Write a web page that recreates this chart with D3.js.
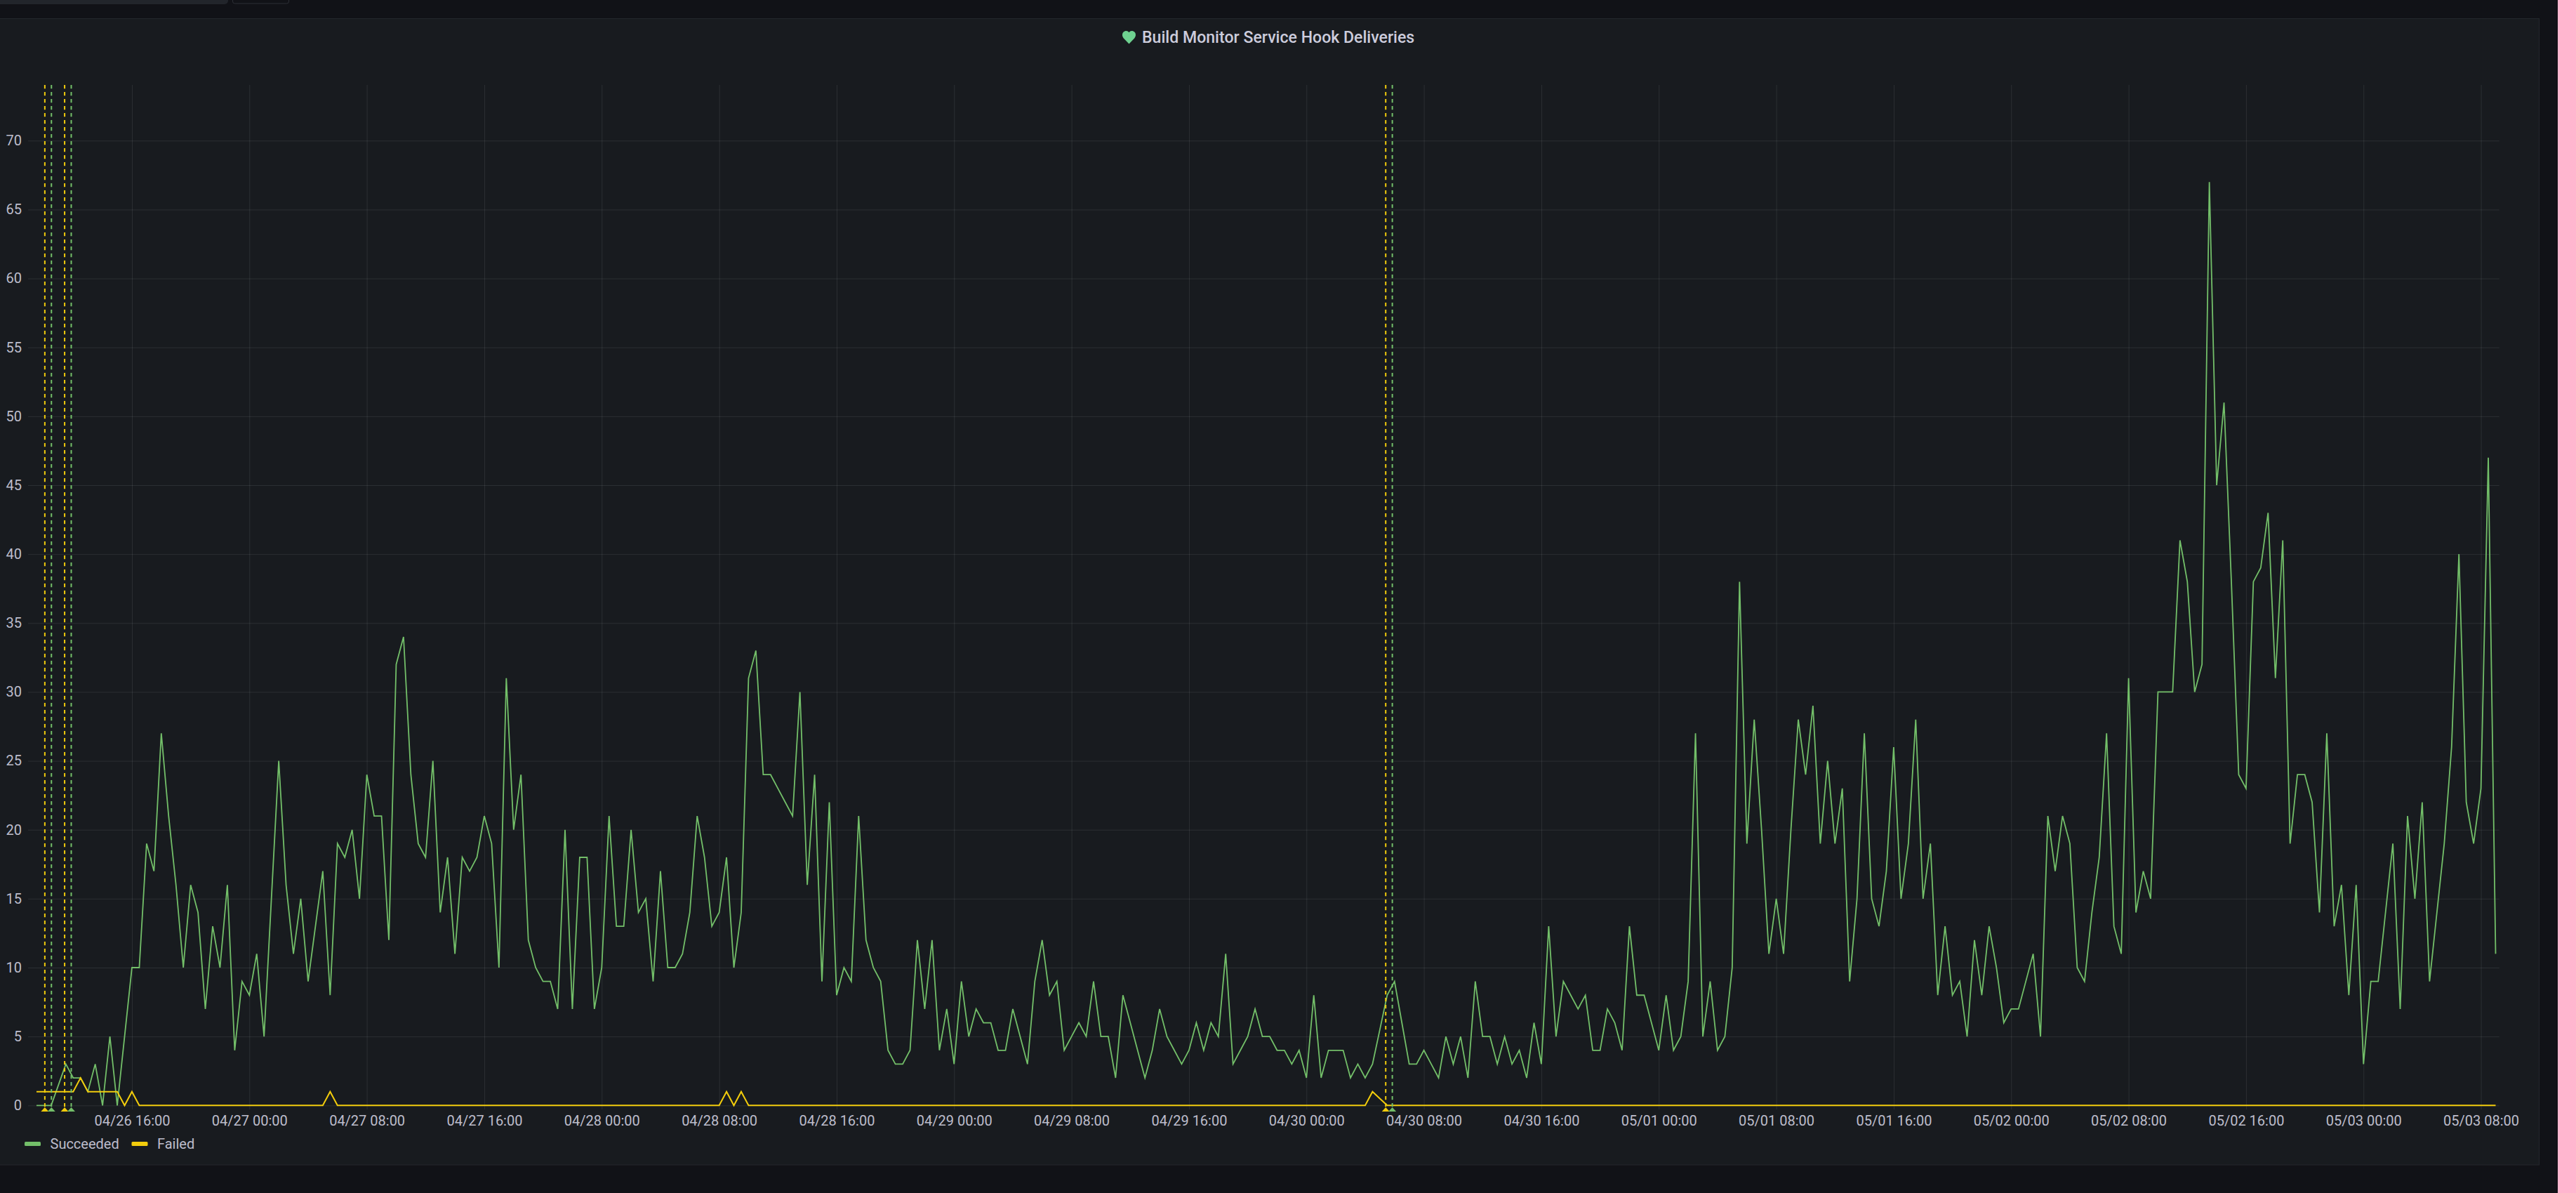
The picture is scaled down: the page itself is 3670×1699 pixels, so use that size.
<!DOCTYPE html>
<html>
<head>
<meta charset="utf-8">
<title>Build Monitor Service Hook Deliveries</title>
<script src="https://cdn.jsdelivr.net/npm/d3@7"></script>
<style>
  html, body { margin: 0; padding: 0; background: #111217; }
  svg { display: block; font-family: Roboto, sans-serif; }
</style>
</head>
<body>
<div id="chart"></div>
<script>
// 30 minute buckets, one value per bucket, first bucket is 04/26 09:30
const succeeded = [
  0,0,0,1.5,3,2,2,1,3,0,5,0,5,10,10,19,
  17,27,21,16,10,16,14,7,13,10,16,4,9,8,11,5,
  15,25,16,11,15,9,13,17,8,19,18,20,15,24,21,21,
  12,32,34,24,19,18,25,14,18,11,18,17,18,21,19,10,
  31,20,24,12,10,9,9,7,20,7,18,18,7,10,21,13,
  13,20,14,15,9,17,10,10,11,14,21,18,13,14,18,10,
  14,31,33,24,24,23,22,21,30,16,24,9,22,8,10,9,
  21,12,10,9,4,3,3,4,12,7,12,4,7,3,9,5,
  7,6,6,4,4,7,5,3,9,12,8,9,4,5,6,5,
  9,5,5,2,8,6,4,2,4,7,5,4,3,4,6,4,
  6,5,11,3,4,5,7,5,5,4,4,3,4,2,8,2,
  4,4,4,2,3,2,3,5.5,8,9,6,3,3,4,3,2,
  5,3,5,2,9,5,5,3,5,3,4,2,6,3,13,5,
  9,8,7,8,4,4,7,6,4,13,8,8,6,4,8,4,
  5,9,27,5,9,4,5,10,38,19,28,20,11,15,11,20,
  28,24,29,19,25,19,23,9,15,27,15,13,17,26,15,19,
  28,15,19,8,13,8,9,5,12,8,13,10,6,7,7,9,
  11,5,21,17,21,19,10,9,14,18,27,13,11,31,14,17,
  15,30,30,30,41,38,30,32,67,45,51,38,24,23,38,39,
  43,31,41,19,24,24,22,14,27,13,16,8,16,3,9,9,
  14,19,7,21,15,22,9,14,19,26,40,22,19,23,47,11
];
const failed = [
  1,1,1,1,1,1,2,1,1,1,1,1,0,1,0,0,
  0,0,0,0,0,0,0,0,0,0,0,0,0,0,0,0,
  0,0,0,0,0,0,0,0,1,0,0,0,0,0,0,0,
  0,0,0,0,0,0,0,0,0,0,0,0,0,0,0,0,
  0,0,0,0,0,0,0,0,0,0,0,0,0,0,0,0,
  0,0,0,0,0,0,0,0,0,0,0,0,0,0,1,0,
  1,0,0,0,0,0,0,0,0,0,0,0,0,0,0,0,
  0,0,0,0,0,0,0,0,0,0,0,0,0,0,0,0,
  0,0,0,0,0,0,0,0,0,0,0,0,0,0,0,0,
  0,0,0,0,0,0,0,0,0,0,0,0,0,0,0,0,
  0,0,0,0,0,0,0,0,0,0,0,0,0,0,0,0,
  0,0,0,0,0,0,1,0.5,0,0,0,0,0,0,0,0,
  0,0,0,0,0,0,0,0,0,0,0,0,0,0,0,0,
  0,0,0,0,0,0,0,0,0,0,0,0,0,0,0,0,
  0,0,0,0,0,0,0,0,0,0,0,0,0,0,0,0,
  0,0,0,0,0,0,0,0,0,0,0,0,0,0,0,0,
  0,0,0,0,0,0,0,0,0,0,0,0,0,0,0,0,
  0,0,0,0,0,0,0,0,0,0,0,0,0,0,0,0,
  0,0,0,0,0,0,0,0,0,0,0,0,0,0,0,0,
  0,0,0,0,0,0,0,0,0,0,0,0,0,0,0,0,
  0,0,0,0,0,0,0,0,0,0,0,0,0,0,0,0
];
const yTicks = [0, 5, 10, 15, 20, 25, 30, 35, 40, 45, 50, 55, 60, 65, 70];
const xTicks = [
  "04/26 16:00", "04/27 00:00", "04/27 08:00", "04/27 16:00", "04/28 00:00", "04/28 08:00", "04/28 16:00",
  "04/29 00:00", "04/29 08:00", "04/29 16:00", "04/30 00:00", "04/30 08:00", "04/30 16:00", "05/01 00:00",
  "05/01 08:00", "05/01 16:00", "05/02 00:00", "05/02 08:00", "05/02 16:00", "05/03 00:00", "05/03 08:00"
];
// Anotaciones: hora y serie de cada marca vertical
const annotationTimes = ["04/26 10:04", "04/26 10:31", "04/26 11:25", "04/26 11:52", "04/30 05:24", "04/30 05:51"];
const annotationSeries = ["Failed", "Succeeded", "Failed", "Succeeded", "Failed", "Succeeded"];
const seriesNames = ["Succeeded", "Failed"];

const colors = { Succeeded: "#73BF69", Failed: "#F2CC0C" };
const textColor = "#bdbdcb";
const gridColor = "rgba(240,250,255,0.09)";

const width = 3670, height = 1699;
const plot = { left: 40, right: 3560.7, top: 121, bottom: 1580 };

const parseTime = d3.utcParse("%Y/%m/%d %H:%M");
const toDate = function (s) { return parseTime("2022/" + s); };
const bucketStart = toDate("04/26 09:30");
const bucketEnd = toDate("05/03 09:00");
const bucketTime = function (i) { return d3.utcMinute.offset(bucketStart, i * 30); };

const svg = d3.select("#chart").append("svg").attr("width", width).attr("height", height);

// fondo de la pagina, barra superior y panel
svg.append("rect").attr("width", width).attr("height", height).attr("fill", "#111217");
svg.append("rect").attr("x", -8).attr("y", -8).attr("width", 333).attr("height", 14).attr("rx", 5).attr("fill", "#22252b");
svg.append("rect").attr("x", 331.5).attr("y", -8).attr("width", 80).attr("height", 13).attr("rx", 3)
  .attr("fill", "#111217").attr("stroke", "#2c2f36");
svg.append("rect").attr("x", -4).attr("y", 26.5).attr("width", 3621.5).attr("height", 1632.5)
  .attr("fill", "#181b1f").attr("stroke", "#24272c");
svg.append("rect").attr("x", 3644).attr("y", 0).attr("width", 26).attr("height", height).attr("fill", "#ffb6cf");

// titulo con el icono de estado
const title = svg.append("g");
title.append("path")
  .attr("transform", "translate(1599,44)")
  .attr("d", "M9.5,18.5 L1.8,10.4 C-0.6,7.8 -0.6,3.6 1.8,1.6 C4.2,-0.6 7.6,-0.4 9.5,2.2 C11.4,-0.4 14.8,-0.6 17.2,1.6 C19.6,3.6 19.6,7.8 17.2,10.4 Z")
  .attr("fill", "#6ed190");
title.append("text")
  .attr("x", 1627).attr("y", 61)
  .attr("font-size", 23.1).attr("font-weight", 500).attr("fill", "#ccccdc")
  .text("Build Monitor Service Hook Deliveries");

// escalas
const x = d3.scaleUtc().domain([bucketStart, bucketEnd]).range([52, 3555.5]);
const y = d3.scaleLinear().domain([0, 70]).range([1574.3, 200.3]);

// ejes con la rejilla
const xAxis = d3.axisBottom(x)
  .tickValues(xTicks.map(toDate))
  .tickFormat(d3.utcFormat("%m/%d %H:%M"))
  .tickSize(-(plot.bottom - plot.top))
  .tickPadding(9);
const gx = svg.append("g").attr("transform", "translate(0," + plot.bottom + ")").call(xAxis);

const yAxis = d3.axisLeft(y)
  .tickValues(yTicks)
  .tickSize(-(plot.right - plot.left))
  .tickPadding(9);
const gy = svg.append("g").attr("transform", "translate(" + plot.left + ",0)").call(yAxis);

[gx, gy].forEach(function (g) {
  g.select(".domain").remove();
  g.attr("font-family", "Roboto, sans-serif").attr("font-size", 20);
  g.selectAll(".tick line").attr("stroke", gridColor);
  g.selectAll(".tick text").attr("fill", textColor);
});

// series
const line = d3.line()
  .x(function (d, i) { return x(bucketTime(i)); })
  .y(function (d) { return y(d); });

svg.append("path").datum(succeeded)
  .attr("d", line).attr("fill", "none")
  .attr("stroke", colors.Succeeded).attr("stroke-width", 1.8).attr("stroke-linejoin", "miter");
svg.append("path").datum(failed)
  .attr("d", line).attr("fill", "none")
  .attr("stroke", colors.Failed).attr("stroke-width", 2).attr("stroke-linejoin", "miter");

// anotaciones: linea discontinua y triangulo abajo
const annotation = svg.selectAll(".annotation")
  .data(annotationTimes)
  .enter()
  .append("g")
  .attr("class", "annotation")
  .attr("transform", function (d) { return "translate(" + x(toDate(d)) + ",0)"; });

annotation.append("line")
  .attr("y1", plot.top).attr("y2", y(0) + 2)
  .attr("stroke-width", 2).attr("stroke-dasharray", "5.3 4.7")
  .attr("stroke", function (d, i) { return colors[annotationSeries[i]]; });

annotation.append("path")
  .attr("d", "M-5.5,1583 L0,1577 L5.5,1583 Z")
  .attr("fill", function (d, i) { return colors[annotationSeries[i]]; });

// leyenda
const legendX = [35, 187.5];
const legend = svg.selectAll(".legend")
  .data(seriesNames)
  .enter()
  .append("g")
  .attr("class", "legend")
  .attr("transform", function (d, i) { return "translate(" + legendX[i] + ",1629)"; });

legend.append("rect")
  .attr("y", -3).attr("width", 23).attr("height", 6).attr("rx", 1.5)
  .attr("fill", function (d) { return colors[d]; });
legend.append("text")
  .attr("x", 36.5).attr("y", 7)
  .attr("font-size", 20).attr("fill", textColor)
  .text(function (d) { return d; });
</script>
</body>
</html>
